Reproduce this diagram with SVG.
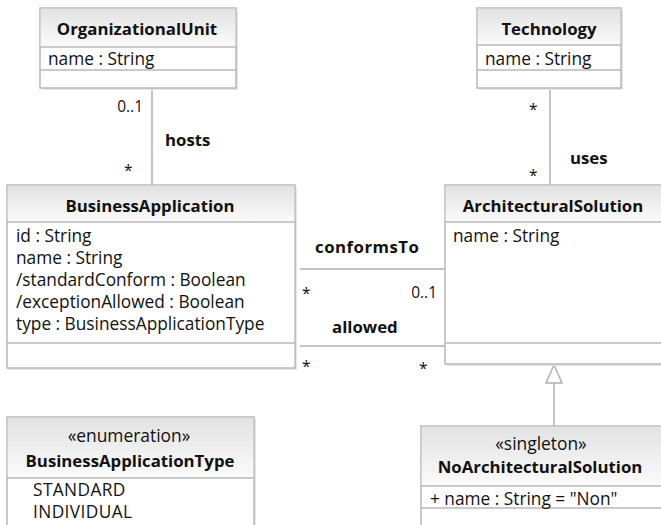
<svg xmlns="http://www.w3.org/2000/svg" width="661" height="525" viewBox="0 0 661 525">
  <style>
    text { font-family: "Open Sans", "Liberation Sans", sans-serif; fill: #111; }
    .title { font-size: 16.8px; font-weight: bold; text-anchor: middle; }
    .stereo { font-size: 17.4px; text-anchor: middle; }
    .attr { font-size: 17.3px; }
    .literal { font-size: 17.3px; letter-spacing: 0.4px; }
    .label { font-size: 16.8px; font-weight: bold; }
    .mult { font-size: 15.5px; }
    .box { fill: #ffffff; stroke: #b8b8b8; stroke-width: 1.5; }
    .shadow { fill: #e6e6e6; }
    .head { fill: url(#headGrad); }
    .sep { stroke: #b8b8b8; stroke-width: 1.5; }
    .conn { stroke: #b0b0b0; stroke-width: 1.5; fill: none; }
  </style>
  <defs>
    <linearGradient id="headGrad" x1="0" y1="0" x2="0" y2="1">
      <stop offset="0" stop-color="#e2e2e2"/>
      <stop offset="1" stop-color="#fbfbfb"/>
    </linearGradient>
  </defs>

  <!-- connectors -->
  <g id="connectors">
    <!-- hosts -->
    <line class="conn" x1="152" y1="88" x2="152" y2="185"/>
    <text class="mult" x="143" y="112" text-anchor="end">0..1</text>
    <text class="label" x="165" y="146">hosts</text>
    <text class="mult" x="124" y="176">*</text>
    <!-- uses -->
    <line class="conn" x1="550" y1="88" x2="550" y2="185"/>
    <text class="mult" x="529" y="115">*</text>
    <text class="label" x="570" y="164">uses</text>
    <text class="mult" x="529" y="181">*</text>
    <!-- conformsTo -->
    <line class="conn" x1="300" y1="269" x2="445" y2="269"/>
    <text class="label" x="315" y="253" letter-spacing="0.5">conformsTo</text>
    <text class="mult" x="302" y="299">*</text>
    <text class="mult" x="437" y="298" text-anchor="end">0..1</text>
    <!-- allowed -->
    <line class="conn" x1="300" y1="346" x2="445" y2="346"/>
    <text class="label" x="332" y="333">allowed</text>
    <text class="mult" x="302" y="372">*</text>
    <text class="mult" x="419" y="374">*</text>
    <!-- generalization -->
    <line class="conn" x1="554" y1="383" x2="554" y2="426"/>
    <polygon class="conn" points="554,365 546,383 562,383" fill="#fff"/>
  </g>

  <!-- OrganizationalUnit -->
  <g id="OrganizationalUnit">
    <rect class="shadow" x="42" y="10" width="196" height="80"/>
    <rect class="box" x="40" y="8" width="196" height="80"/>
    <rect class="head" x="40.75" y="8.75" width="194.5" height="38.25"/>
    <line class="sep" x1="40" y1="47" x2="236" y2="47"/>
    <line class="sep" x1="40" y1="70" x2="236" y2="70"/>
    <text class="title" x="137" y="35">OrganizationalUnit</text>
    <text class="attr" x="48" y="65">name : String</text>
  </g>

  <!-- Technology -->
  <g id="Technology">
    <rect class="shadow" x="479" y="10" width="144" height="80"/>
    <rect class="box" x="477" y="8" width="144" height="80"/>
    <rect class="head" x="477.75" y="8.75" width="142.5" height="36.25"/>
    <line class="sep" x1="477" y1="45" x2="621" y2="45"/>
    <line class="sep" x1="477" y1="70" x2="621" y2="70"/>
    <text class="title" x="549" y="35">Technology</text>
    <text class="attr" x="485" y="65">name : String</text>
  </g>

  <!-- BusinessApplication -->
  <g id="BusinessApplication">
    <rect class="shadow" x="9" y="187" width="288" height="183"/>
    <rect class="box" x="7" y="185" width="288" height="183"/>
    <rect class="head" x="7.75" y="185.75" width="286.5" height="36.25"/>
    <line class="sep" x1="7" y1="222" x2="295" y2="222"/>
    <line class="sep" x1="7" y1="343" x2="295" y2="343"/>
    <text class="title" x="150" y="212">BusinessApplication</text>
    <text class="attr" x="16" y="242">id : String</text>
    <text class="attr" x="16" y="264">name : String</text>
    <text class="attr" x="16" y="286">/standardConform : Boolean</text>
    <text class="attr" x="16" y="308">/exceptionAllowed : Boolean</text>
    <text class="attr" x="16" y="330">type : BusinessApplicationType</text>
  </g>

  <!-- ArchitecturalSolution -->
  <g id="ArchitecturalSolution">
    <rect class="shadow" x="447" y="187" width="218" height="179"/>
    <rect class="box" x="445" y="185" width="218" height="179"/>
    <rect class="head" x="445.75" y="185.75" width="216.5" height="36.25"/>
    <line class="sep" x1="445" y1="222" x2="663" y2="222"/>
    <line class="sep" x1="445" y1="343" x2="663" y2="343"/>
    <text class="title" x="553" y="212">ArchitecturalSolution</text>
    <text class="attr" x="453" y="242">name : String</text>
  </g>

  <!-- NoArchitecturalSolution -->
  <g id="NoArchitecturalSolution">
    <rect class="shadow" x="423" y="428" width="241" height="120"/>
    <rect class="box" x="421" y="426" width="241" height="120"/>
    <rect class="head" x="421.75" y="426.75" width="239.5" height="59.25"/>
    <line class="sep" x1="421" y1="486" x2="662" y2="486"/>
    <line class="sep" x1="421" y1="508" x2="662" y2="508"/>
    <text class="stereo" x="541" y="450">«singleton»</text>
    <text class="title" x="540" y="473">NoArchitecturalSolution</text>
    <text class="attr" x="430" y="505">+ name : String = "Non"</text>
  </g>

  <!-- BusinessApplicationType -->
  <g id="BusinessApplicationType">
    <rect class="shadow" x="9" y="419" width="247" height="120"/>
    <rect class="box" x="7" y="417" width="247" height="120"/>
    <rect class="head" x="7.75" y="417.75" width="245.5" height="60.25"/>
    <line class="sep" x1="7" y1="478" x2="254" y2="478"/>
    <text class="stereo" x="129" y="442">«enumeration»</text>
    <text class="title" x="130" y="467">BusinessApplicationType</text>
    <text class="literal" x="33" y="496">STANDARD</text>
    <text class="literal" x="33" y="518">INDIVIDUAL</text>
  </g>
</svg>
